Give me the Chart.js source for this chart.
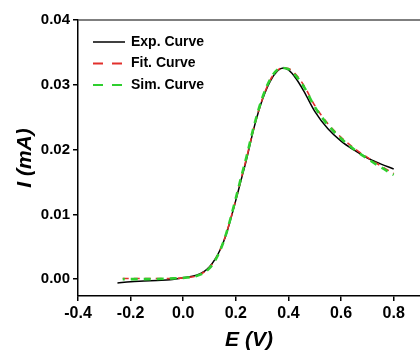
<!DOCTYPE html>
<html>
<head>
<meta charset="utf-8">
<script src="https://cdn.jsdelivr.net/npm/chart.js@4.4.1/dist/chart.umd.min.js"></script>
<style>
  html, body { margin: 0; padding: 0; background: #fff; }
  #wrap { width: 420px; height: 353px; position: relative; }
</style>
</head>
<body>
<div id="wrap"><canvas id="chart"></canvas></div>
<script>
// experimental curve
const expE = [-0.25, -0.2, -0.15, -0.1, -0.05, 0.0, 0.05, 0.08, 0.1, 0.12, 0.14, 0.16, 0.18, 0.2, 0.22, 0.24, 0.27, 0.3, 0.33, 0.36, 0.38, 0.4, 0.43, 0.46, 0.5, 0.55, 0.6, 0.65, 0.7, 0.75, 0.8]
const expI = [-0.0006, -0.0004, -0.0003, -0.0002, -0.0001, 0.0002, 0.0006, 0.0012, 0.0019, 0.0030, 0.0045, 0.0065, 0.0092, 0.0122, 0.0153, 0.0184, 0.0235, 0.0276, 0.0305, 0.0322, 0.0326, 0.0323, 0.0309, 0.0289, 0.0259, 0.0232, 0.0213, 0.0199, 0.0187, 0.0178, 0.0170]

// fit + simulated curves share the same potentials
const fitE = [-0.23, -0.15, -0.05, 0.0, 0.05, 0.08, 0.1, 0.12, 0.14, 0.16, 0.18, 0.2, 0.22, 0.24, 0.27, 0.3, 0.33, 0.36, 0.38, 0.4, 0.43, 0.46, 0.5, 0.55, 0.6, 0.65, 0.7, 0.75, 0.8]
const fitI = [0.0001, 0.0001, 0.0001, 0.0002, 0.0005, 0.0011, 0.0018, 0.0029, 0.0045, 0.0066, 0.0093, 0.0123, 0.0155, 0.0186, 0.0236, 0.0277, 0.0307, 0.0323, 0.0326, 0.0325, 0.0315, 0.0298, 0.0268, 0.0240, 0.0219, 0.0202, 0.0188, 0.0175, 0.0163]
const simI = [0.0000, 0.0000, 0.0001, 0.0002, 0.0005, 0.0010, 0.0017, 0.0028, 0.0044, 0.0066, 0.0094, 0.0125, 0.0157, 0.0188, 0.0238, 0.0279, 0.0308, 0.0324, 0.0326, 0.0324, 0.0313, 0.0296, 0.0266, 0.0238, 0.0217, 0.0200, 0.0186, 0.0173, 0.0161]

const seriesNames = ['Exp. Curve', 'Fit. Curve', 'Sim. Curve']
const xTicks = [-0.4, -0.2, 0.0, 0.2, 0.4, 0.6, 0.8]
const yTicks = [0.00, 0.01, 0.02, 0.03, 0.04]

const FONT = "'Liberation Sans', Arial, sans-serif"

function pts(xs, ys) {
    return xs.map((x, i) => ({ x: x, y: ys[i] }))
}

// legend sits inside the plot, top-left
const innerLegend = {
    id: 'innerLegend',
    afterDraw(chart) {
        const ctx = chart.ctx
        const a = chart.chartArea
        // top frame line
        ctx.save()
        ctx.strokeStyle = '#555'
        ctx.lineWidth = 1.5
        ctx.beginPath()
        ctx.moveTo(a.left, a.top)
        ctx.lineTo(a.right, a.top)
        ctx.stroke()

        ctx.font = 'bold 14px ' + FONT
        ctx.textBaseline = 'middle'
        ctx.fillStyle = '#000'
        chart.data.datasets.forEach((ds, i) => {
            const y = a.top + 22 + i * 21.5
            ctx.strokeStyle = ds.borderColor
            ctx.lineWidth = i === 0 ? 1.5 : 2
            ctx.setLineDash(i === 0 ? [] : [10, 9])
            ctx.beginPath()
            ctx.moveTo(a.left + 15, y)
            ctx.lineTo(a.left + 47, y)
            ctx.stroke()
            ctx.fillText(ds.label, a.left + 53, y)
        })
        ctx.restore()
    }
}

new Chart(document.getElementById('chart'), {
    type: 'line',
    data: {
        datasets: [{
            label: seriesNames[0],
            data: pts(expE, expI),
            borderColor: '#000',
            borderWidth: 1.5,
            order: 3
        }, {
            label: seriesNames[1],
            data: pts(fitE, fitI),
            borderColor: '#e2302c',
            borderWidth: 1.6,
            borderDash: [6, 5],
            order: 2
        }, {
            label: seriesNames[2],
            data: pts(fitE, simI),
            borderColor: '#2fcf2f',
            borderWidth: 2.6,
            borderDash: [7, 6],
            borderDashOffset: 5,
            order: 1
        }]
    },
    options: {
        responsive: true,
        maintainAspectRatio: false,
        devicePixelRatio: 1,
        animation: false,
        elements: {
            point: { radius: 0 },
            line: { cubicInterpolationMode: 'monotone', fill: false }
        },
        layout: { padding: { top: 20, right: 0, left: 0, bottom: 0 } },
        plugins: {
            legend: { display: false },
            tooltip: { enabled: false }
        },
        scales: {
            x: {
                type: 'linear',
                min: -0.4,
                max: 0.9,
                afterBuildTicks: s => { s.ticks = xTicks.map(v => ({ value: v })) },
                afterFit: s => { s.height = 57 },
                grid: { drawOnChartArea: false, tickLength: 5, color: '#000', lineWidth: 1.5 },
                border: { color: '#000', width: 1.5 },
                ticks: {
                    color: '#000',
                    font: { family: FONT, size: 16, weight: 'bold' },
                    padding: 3,
                    maxRotation: 0,
                    callback: v => v.toFixed(1)
                },
                title: {
                    display: true,
                    text: 'E (V)',
                    color: '#000',
                    font: { family: FONT, size: 21, weight: 'bold', style: 'italic' },
                    padding: 0
                }
            },
            y: {
                min: -0.0026,
                max: 0.04,
                afterBuildTicks: s => { s.ticks = yTicks.map(v => ({ value: v })) },
                afterFit: s => { s.width = 78 },
                grid: { drawOnChartArea: false, tickLength: 5, color: '#000', lineWidth: 1.5 },
                border: { color: '#000', width: 1.5 },
                ticks: {
                    color: '#000',
                    font: { family: FONT, size: 15, weight: 'bold' },
                    padding: 3,
                    callback: v => v.toFixed(2)
                },
                title: {
                    display: true,
                    text: 'I (mA)',
                    color: '#000',
                    font: { family: FONT, size: 21, weight: 'bold', style: 'italic' },
                    padding: { top: 13, bottom: 0 }
                }
            }
        }
    },
    plugins: [innerLegend]
})
</script>
</body>
</html>
